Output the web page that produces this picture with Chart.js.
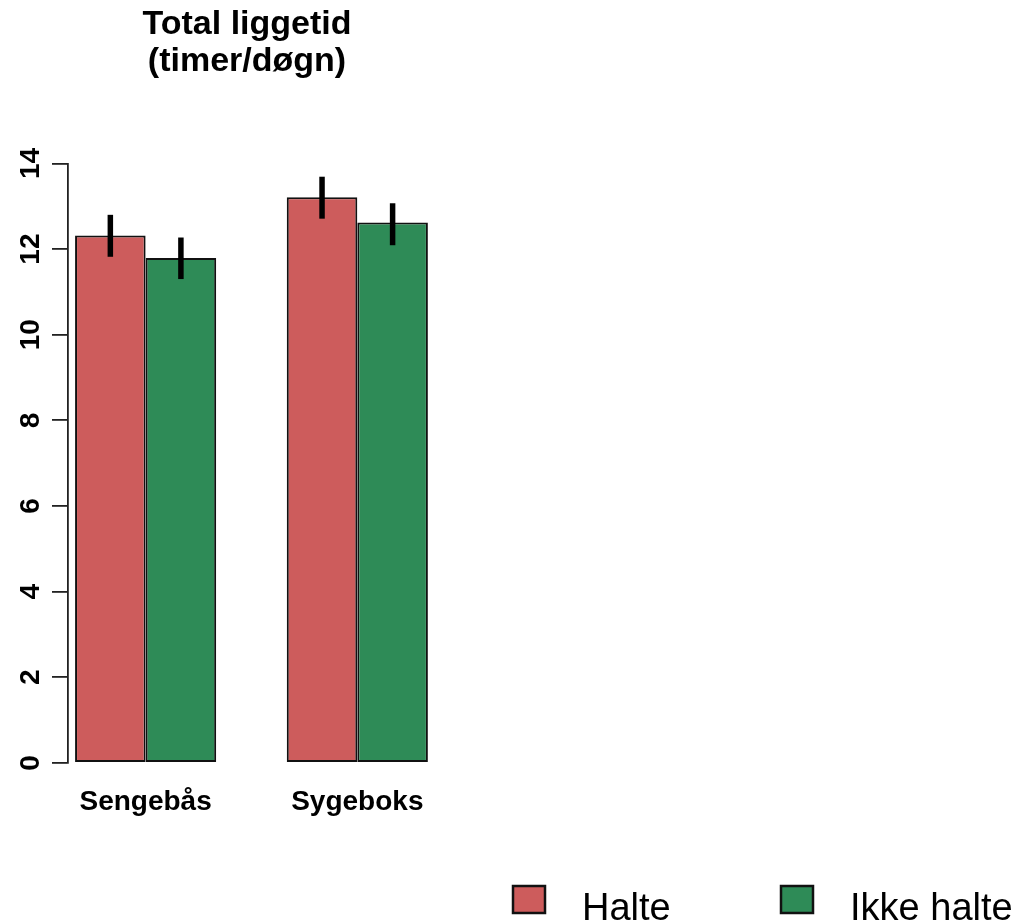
<!DOCTYPE html>
<html>
<head>
<meta charset="utf-8">
<script src="https://cdn.jsdelivr.net/npm/chart.js@4"></script>
<style>
html,body{margin:0;padding:0;background:#fff;}
canvas{display:block;}
</style>
</head>
<body>
<canvas id="c" width="1018" height="923"></canvas>
<script>
// ---- data ----
const categories = ['Sengebås', 'Sygeboks'];
const seriesNames = ['Halte', 'Ikke halte'];
const halte = [12.32, 13.21];
const ikkeHalte = [11.79, 12.62];
const halteLow = [11.82, 12.71];
const halteHigh = [12.80, 13.69];
const ikkeHalteLow = [11.30, 12.09];
const ikkeHalteHigh = [12.27, 13.07];
const yTicks = [0, 2, 4, 6, 8, 10, 12, 14];
const titleLines = ['Total liggetid', '(timer/døgn)'];

// ---- styling ----
const colors = ['#CD5C5C', '#2E8B57'];
const FONT = '"Liberation Sans", Arial, Helvetica, sans-serif';
const groupCenter = i => 2 + 3 * i;

const lows = [halteLow, ikkeHalteLow];
const highs = [halteHigh, ikkeHalteHigh];

const errorBars = {
  id: 'errorBars',
  afterDatasetsDraw(chart) {
    const ctx = chart.ctx;
    const y = chart.scales.y;
    ctx.save();
    ctx.strokeStyle = '#000';
    ctx.lineWidth = 5.5;
    ctx.lineCap = 'butt';
    chart.data.datasets.forEach((ds, di) => {
      const meta = chart.getDatasetMeta(di);
      meta.data.forEach((bar, i) => {
        ctx.beginPath();
        ctx.moveTo(bar.x, y.getPixelForValue(lows[di][i]));
        ctx.lineTo(bar.x, y.getPixelForValue(highs[di][i]));
        ctx.stroke();
      });
    });
    ctx.restore();
  }
};

const yLabels = {
  id: 'yLabels',
  afterDraw(chart) {
    const ctx = chart.ctx;
    const y = chart.scales.y;
    ctx.save();
    ctx.fillStyle = '#000';
    ctx.font = 'bold 28px ' + FONT;
    ctx.textAlign = 'center';
    ctx.textBaseline = 'alphabetic';
    y.ticks.forEach(t => {
      ctx.save();
      ctx.translate(39, y.getPixelForValue(t.value));
      ctx.rotate(-Math.PI / 2);
      ctx.fillText(String(t.value), 0, 0);
      ctx.restore();
    });
    ctx.restore();
  }
};

const bottomLegend = {
  id: 'bottomLegend',
  afterDraw(chart) {
    const ctx = chart.ctx;
    const boxX = [513, 781];
    ctx.save();
    ctx.font = '38px ' + FONT;
    ctx.textBaseline = 'alphabetic';
    ctx.textAlign = 'left';
    chart.data.datasets.forEach((ds, i) => {
      ctx.fillStyle = ds.backgroundColor;
      ctx.fillRect(boxX[i], 886, 32, 27);
      ctx.strokeStyle = '#111';
      ctx.lineWidth = 2.5;
      ctx.strokeRect(boxX[i], 886, 32, 27);
      ctx.fillStyle = '#000';
      ctx.fillText(ds.label, boxX[i] + 69, 920);
    });
    ctx.restore();
  }
};

new Chart(document.getElementById('c'), {
  type: 'bar',
  data: {
    datasets: [
      {
        label: seriesNames[0],
        data: halte.map((v, i) => ({ x: groupCenter(i), y: v })),
        backgroundColor: colors[0],
        borderColor: '#111',
        borderWidth: 2,
        borderSkipped: false
      },
      {
        label: seriesNames[1],
        data: ikkeHalte.map((v, i) => ({ x: groupCenter(i), y: v })),
        backgroundColor: colors[1],
        borderColor: '#111',
        borderWidth: 2,
        borderSkipped: false
      }
    ]
  },
  options: {
    responsive: false,
    animation: false,
    datasets: { bar: { categoryPercentage: 2 / 3, barPercentage: 1 } },
    layout: { padding: { left: 52, right: 576, top: 0, bottom: 81.7 } },
    plugins: {
      legend: { display: false },
      tooltip: { enabled: false },
      title: {
        display: true,
        text: titleLines,
        color: '#000',
        font: { family: FONT, size: 34, weight: 'bold', lineHeight: 1.08 },
        padding: { top: 6.5, bottom: 83.5 }
      }
    },
    scales: {
      x: {
        type: 'linear',
        min: 0.9,
        max: 6.2,
        offset: false,
        grid: { display: false, drawTicks: false },
        border: { display: false },
        afterBuildTicks: s => { s.ticks = categories.map((c, i) => ({ value: groupCenter(i) })); },
        ticks: {
          padding: 22.4,
          color: '#000',
          font: { family: FONT, size: 28, weight: 'bold' },
          callback: (v, i) => categories[i],
          maxRotation: 0,
          autoSkip: false
        }
      },
      y: {
        min: 0,
        max: 14,
        afterBuildTicks: s => { s.ticks = yTicks.map(v => ({ value: v })); },
        grid: {
          drawOnChartArea: false,
          drawTicks: true,
          tickLength: 16,
          color: '#222',
          lineWidth: 1.8
        },
        border: { display: true, color: '#222', width: 1.8 },
        ticks: { display: false }
      }
    }
  },
  plugins: [errorBars, yLabels, bottomLegend]
});
</script>
</body>
</html>
